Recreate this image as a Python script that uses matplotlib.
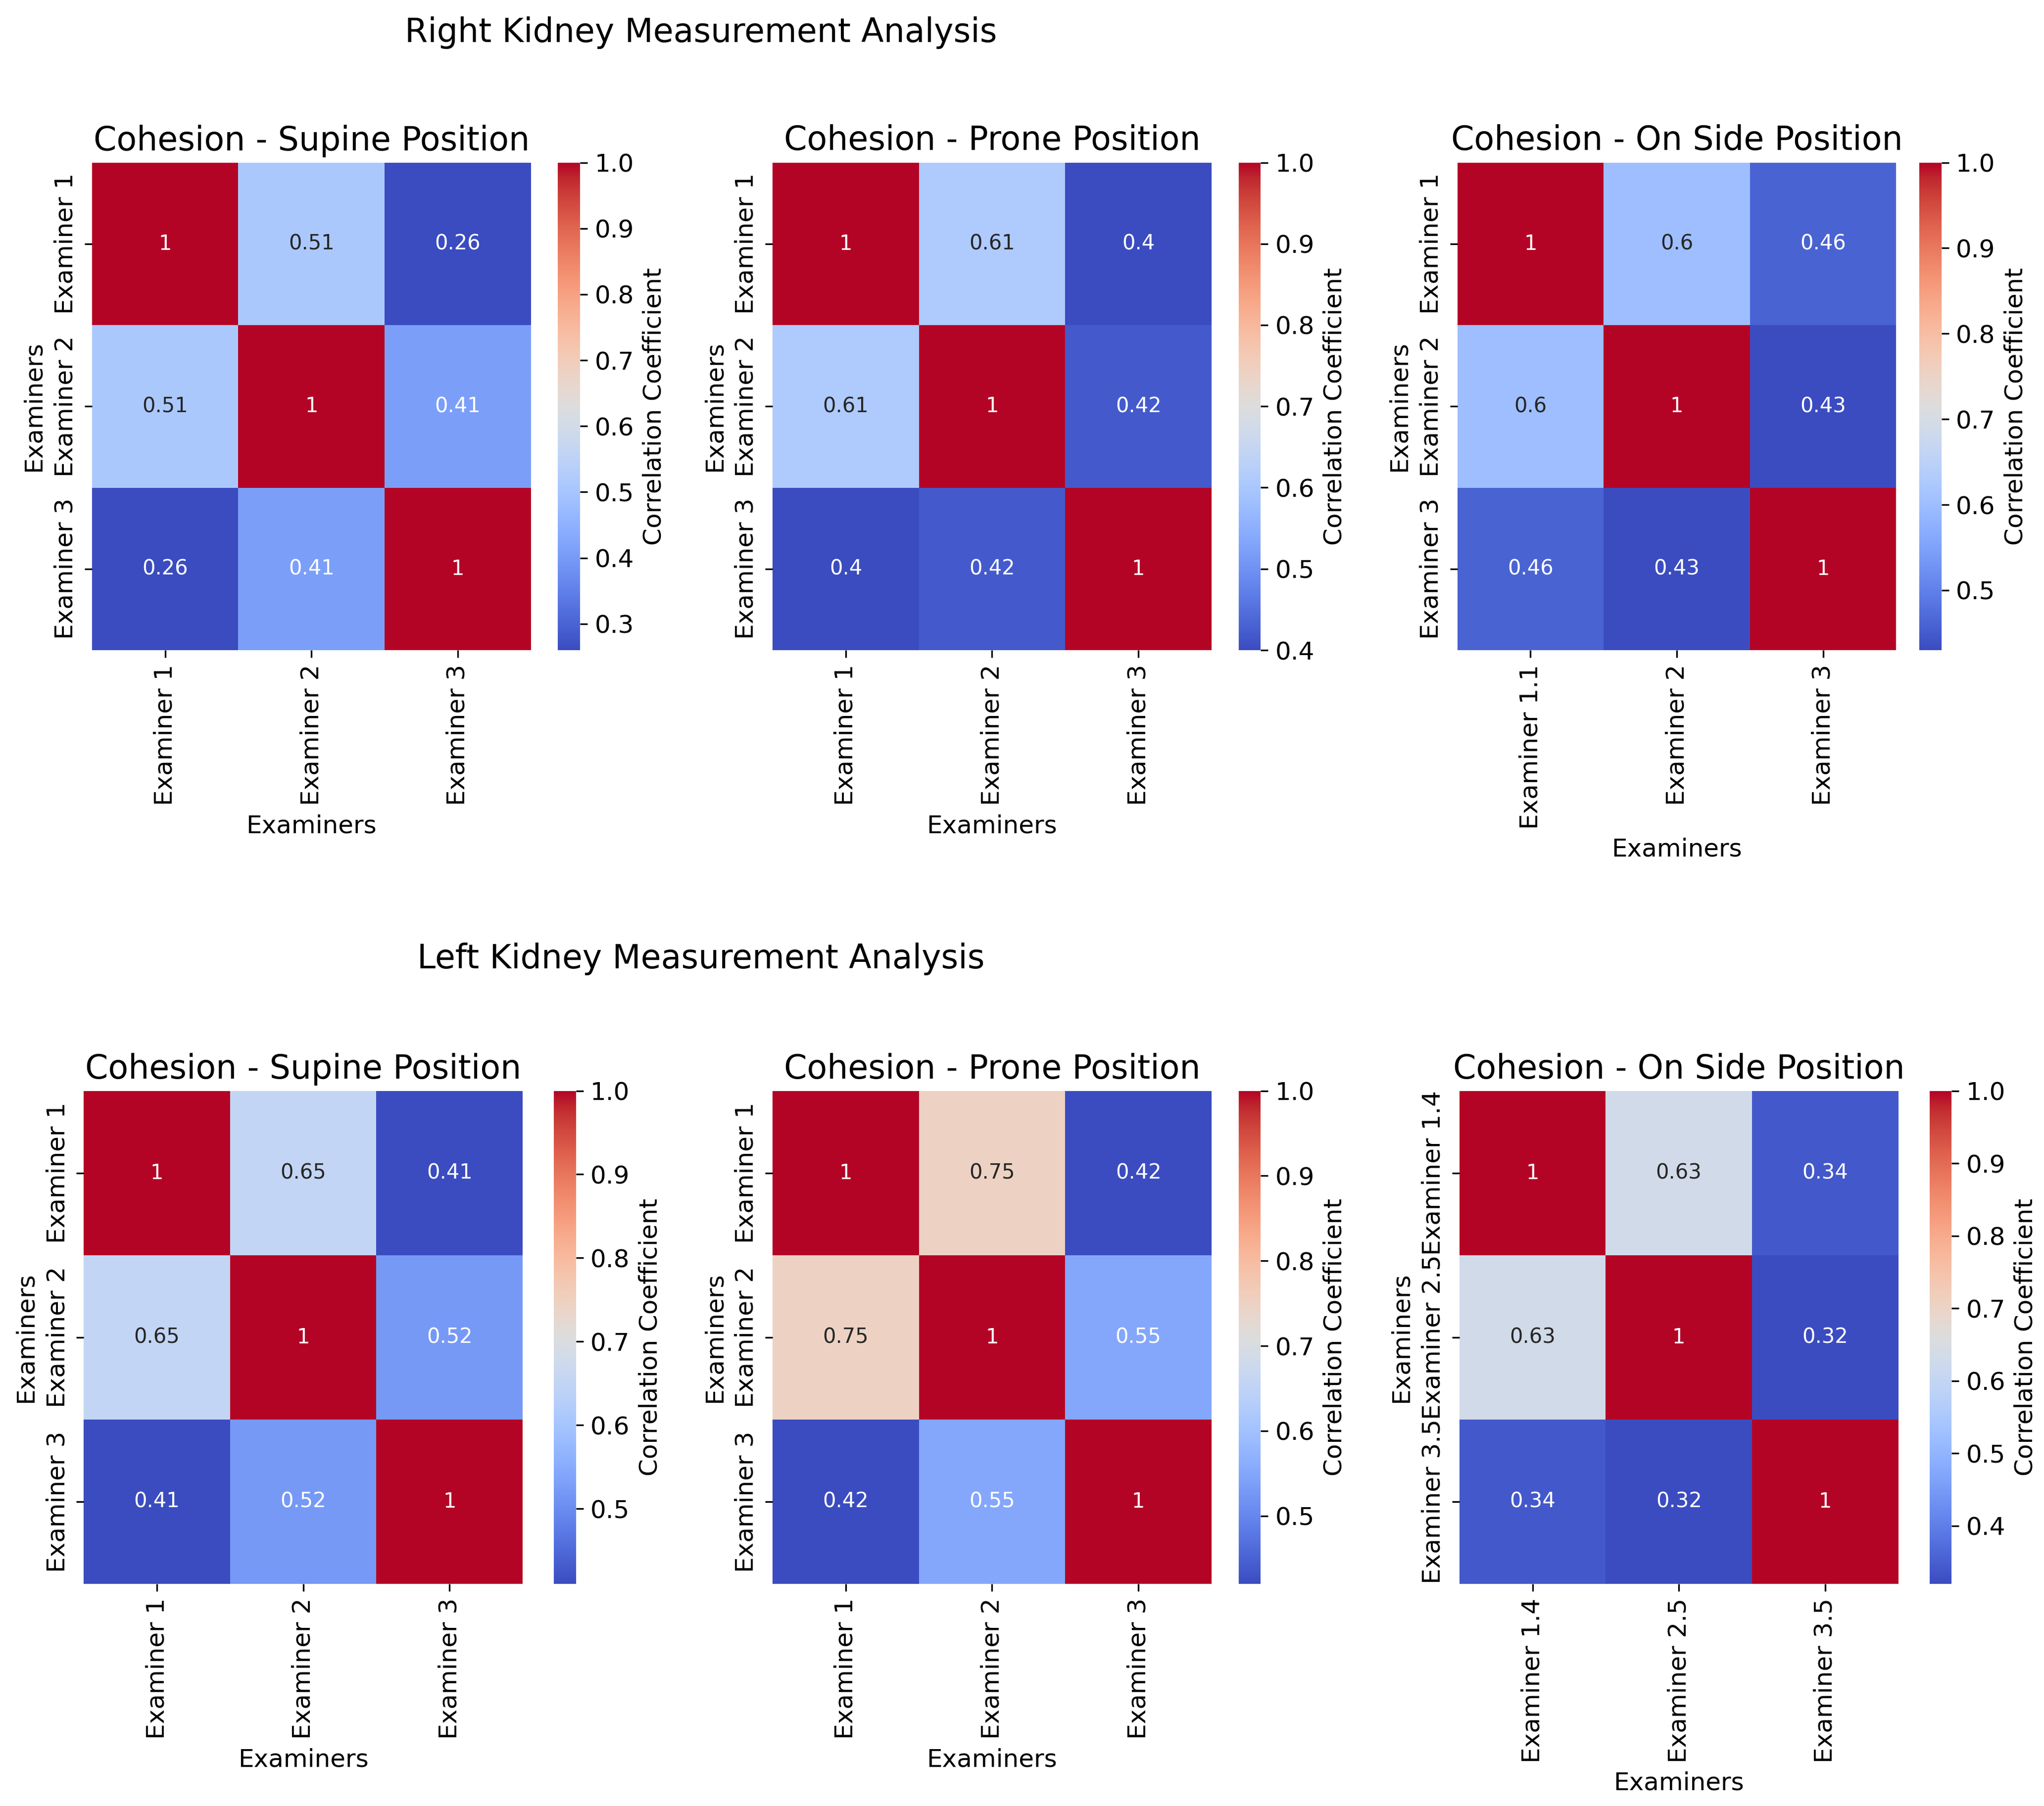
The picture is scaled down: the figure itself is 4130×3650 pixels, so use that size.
import numpy as np
import matplotlib
matplotlib.use('Agg')
import matplotlib.pyplot as plt
import seaborn as sns

# correlation values between examiners
right_supine = [[1, 0.51, 0.26], [0.51, 1, 0.41], [0.26, 0.41, 1]]
right_prone = [[1, 0.61, 0.40], [0.61, 1, 0.42], [0.40, 0.42, 1]]
right_side = [[1, 0.60, 0.46], [0.60, 1, 0.43], [0.46, 0.43, 1]]
left_supine = [[1, 0.65, 0.41], [0.65, 1, 0.52], [0.41, 0.52, 1]]
left_prone = [[1, 0.75, 0.42], [0.75, 1, 0.55], [0.42, 0.55, 1]]
left_side = [[1, 0.63, 0.34], [0.63, 1, 0.32], [0.34, 0.32, 1]]

examiners = ['Examiner 1', 'Examiner 2', 'Examiner 3']
examiners_side_r = ['Examiner 1.1', 'Examiner 2', 'Examiner 3']
examiners_side_l = ['Examiner 1.4', 'Examiner 2.5', 'Examiner 3.5']
positions = ['Supine', 'Prone', 'On Side']
row_titles = ['Right Kidney Measurement Analysis',
              'Left Kidney Measurement Analysis']

fig = plt.figure(figsize=(4130 / 300, 3650 / 300), dpi=300)

# axes boxes [left, bottom, width, height] and colorbar lefts
rows = [
    {'data': [right_supine, right_prone, right_side],
     'xlabels': [examiners, examiners, examiners_side_r],
     'ylabels': [examiners, examiners, examiners],
     'lefts': [0.045, 0.378, 0.713], 'cb': [0.273, 0.606, 0.939],
     'bottom': 0.640, 'height': 0.270, 'sup_y': 0.982},
    {'data': [left_supine, left_prone, left_side],
     'xlabels': [examiners, examiners, examiners_side_l],
     'ylabels': [examiners, examiners, examiners_side_l],
     'lefts': [0.041, 0.378, 0.714], 'cb': [0.271, 0.606, 0.944],
     'bottom': 0.123, 'height': 0.273, 'sup_y': 0.469},
]

for r, row in enumerate(rows):
    for i in range(3):
        ax = fig.add_axes([row['lefts'][i], row['bottom'], 0.2147, row['height']])
        cax = fig.add_axes([row['cb'][i], row['bottom'], 0.0108, row['height']])
        sns.heatmap(np.array(row['data'][i]), annot=True, cmap='coolwarm',
                    xticklabels=row['xlabels'][i], yticklabels=row['ylabels'][i],
                    ax=ax, cbar_ax=cax, annot_kws={'size': 10},
                    cbar_kws={'label': 'Correlation Coefficient'})
        ax.set_title('Cohesion - %s Position' % positions[i], fontsize=16)
        ax.set_xlabel('Examiners', fontsize=12)
        ax.set_ylabel('Examiners', fontsize=12)
        plt.setp(ax.get_xticklabels(), rotation=90, fontsize=12)
        plt.setp(ax.get_yticklabels(), rotation=90, va='center', fontsize=12)
        cax.tick_params(labelsize=12)
        cax.yaxis.label.set_size(12)
    fig.text(0.343, row['sup_y'], row_titles[r], ha='center', va='center',
             fontsize=16)

fig.savefig('out.png', dpi=300)
plt.close(fig)
